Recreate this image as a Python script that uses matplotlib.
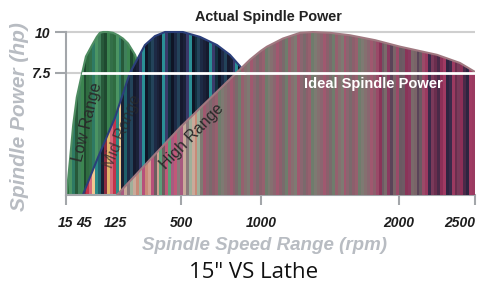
import numpy as np
import matplotlib
matplotlib.use("Agg")
import matplotlib.pyplot as plt
from matplotlib.patches import Polygon
from matplotlib.colors import to_rgb

plt.rcParams['font.family'] = ['Liberation Sans', 'DejaVu Sans']

# ---------------- data ----------------
# piecewise speed axis (rpm -> relative axis position)
AXIS_RPM = [0, 15, 45, 125, 500, 1000, 2000, 2500, 3000]
AXIS_POS = [-30, 0, 18, 49, 115, 195, 333, 409, 485]

X_TICKS = [15, 45, 125, 500, 1000, 2000, 2500]
X_TICK_LABELS = ['15', '45', '125', '500', '1000', '2000', '2500']
X_UNMARKED = ['45', '125']
Y_TICKS = [7.5, 10]
Y_TICK_LABELS = ['7.5', '10']
IDEAL_HP = 7.5

LOW_RPM = [16, 22, 27, 33, 42, 50, 66, 78, 86, 94, 107, 120, 142, 170, 199, 239, 290, 330, 360]
LOW_HP = [0, 2.3, 4.3, 6.0, 7.5, 8.5, 9.2, 9.7, 9.95, 10.0, 10.0, 9.95, 9.8, 9.6, 9.3, 8.6, 7.0, 5.0, 0]

MID_RPM = [43, 81, 125, 210, 295, 352, 409, 466, 512, 619, 725, 806, 869, 931, 963, 1007]
MID_HP = [0, 2.3, 4.75, 7.5, 9.2, 9.75, 10.0, 10.0, 10.0, 9.7, 9.2, 8.6, 7.9, 7.1, 6.5, 0]

HIGH_RPM = [136, 500, 931, 1000, 1043, 1159, 1283, 1377, 1500, 1645, 1826, 2007, 2250, 2401, 2500]
HIGH_HP = [0, 4.2, 8.3, 8.85, 9.1, 9.6, 9.95, 10.0, 9.95, 9.8, 9.5, 9.1, 8.6, 8.1, 7.55]

# stripe palettes: (start fraction of axis width, colours)
LOW_STRIPES = [(0.0, ['#2f6b40', '#3c8550', '#27593a', '#4b9463', '#336f48', '#1f4a30', '#3f7f5a', '#2e7a64'])]
MID_STRIPES = [(0.0, ['#c2334a', '#e3b46a', '#1a1f33', '#2c8a86', '#d46a7a', '#8a2a40', '#1f5f6a', '#f0c890']),
               (0.15, ['#161a2e', '#1d2a45', '#12303f', '#2a8f95', '#1b2138', '#23435a', '#0f1526', '#3a3a6a'])]
HIGH_STRIPES = [(0.0, ['#c9aa9a', '#b8507a', '#5c9f78', '#8a7a7c', '#c98a78', '#6d5d60', '#a85a80', '#9fb09a', '#d0a090', '#c05878']),
                (0.33, ['#8a6670', '#7e7a72', '#96606e', '#7a6a6c', '#a0586f', '#857070', '#6f7c6c', '#8c5f6c']),
                (0.76, ['#7a6468', '#8a3a60', '#6e5a64', '#9a4a68', '#5a4458', '#7a6a6a', '#8a3458', '#6a5a62']),
                (0.88, ['#8c2f57', '#6a2e4e', '#3a2a4a', '#a03a62', '#4a2a48', '#7a3a5a', '#9a3a60', '#2e2440'])]

# ---------------- figure ----------------
fig = plt.figure(figsize=(4.78, 2.86), dpi=100)
ax = fig.add_axes([66 / 478, (286 - 195) / 286, 409 / 478, 0.587])

fwd = lambda v: np.interp(v, AXIS_RPM, AXIS_POS)
inv = lambda v: np.interp(v, AXIS_POS, AXIS_RPM)
ax.set_xscale('function', functions=(fwd, inv))

GRID = '#cfcfcf'
SPINE = '#a3a6aa'
for yv in Y_TICKS:
    ax.axhline(yv, color=GRID, lw=1.5, zorder=0.5)


def stripe_image(segments, n=140):
    arr = np.zeros((1, n, 3))
    for i in range(n):
        frac = (i + 0.5) / n
        pal = segments[0][1]
        for start, p in segments:
            if frac >= start:
                pal = p
        arr[0, i] = to_rgb(pal[(i * 3 + i // 2) % len(pal)])
    return arr


def draw_range(rpm, hp, segments, edge, z):
    verts = np.column_stack([rpm + [rpm[-1], rpm[0]], hp + [0, 0]])
    patch = Polygon(verts, closed=True, facecolor='none', edgecolor='none', zorder=z)
    ax.add_patch(patch)
    im = ax.imshow(stripe_image(segments), extent=[0, 1, 0, 1], transform=ax.transAxes,
                   aspect='auto', interpolation='nearest', zorder=z)
    im.set_clip_path(patch)
    ax.plot(rpm, hp, color=edge, lw=1.5, zorder=z + 0.1, solid_capstyle='round')
    wl = ax.axhline(IDEAL_HP, color='white', lw=2.0, zorder=6)
    wl.set_clip_path(patch)
    return patch


draw_range(LOW_RPM, LOW_HP, LOW_STRIPES, '#4f8d62', 1)
draw_range(MID_RPM, MID_HP, MID_STRIPES, '#2b3f7a', 2)
draw_range(HIGH_RPM, HIGH_HP, HIGH_STRIPES, '#a07880', 3)

ax.set_xlim(15, 2500)
ax.set_ylim(0, 10.3)
ax.set_autoscale_on(False)

# spines & ticks
for s in ['top', 'right']:
    ax.spines[s].set_visible(False)
for s in ['left', 'bottom']:
    ax.spines[s].set_color(SPINE)
    ax.spines[s].set_linewidth(1.5)
ax.spines['left'].set_bounds(0, 10)

tick_font = dict(fontsize=10, fontweight='bold', fontstyle='italic', color='#1e1e1e')
ax.set_yticks(Y_TICKS)
ax.set_yticklabels(Y_TICK_LABELS, **tick_font)
ax.set_xticks(X_TICKS)
ax.set_xticklabels(X_TICK_LABELS, **tick_font)
ax.tick_params(axis='y', length=8, width=1.5, color=SPINE, pad=3.5)
ax.tick_params(axis='x', length=7, width=1.5, color=SPINE, pad=8)
for tk, lab in zip(ax.xaxis.get_major_ticks(), X_TICK_LABELS):
    if lab in X_UNMARKED:
        tk.tick1line.set_visible(False)
ax.get_xticklabels()[-1].set_ha('right')

# annotations
lab_font = dict(fontsize=11.5, color='#2a2a2a', ha='center', va='center', rotation_mode='anchor', zorder=7)
ax.text(53, 4.5, 'Low Range', rotation=76, **lab_font)
ax.text(165, 3.9, 'Mid Range', rotation=68, alpha=0.75, **lab_font)
ax.text(569, 3.6, 'High Range', rotation=46, **lab_font)
ax.text(1812, 6.8, 'Ideal Spindle Power', fontsize=10.5, fontweight='bold', color='white',
        ha='center', va='center', zorder=8)

fig.text(268 / 478, 1 - 17 / 286, 'Actual Spindle Power', fontsize=10.4, fontweight='bold',
         color='#222222', ha='center', va='center')
fig.text(265 / 478, 1 - 245 / 286, 'Spindle Speed Range (rpm)', fontsize=13.5, fontweight='bold',
         fontstyle='italic', color='#b8bcc2', ha='center', va='center')
fig.text(20 / 478, 1 - 117 / 286, 'Spindle Power (hp)', fontsize=15, fontweight='bold',
         fontstyle='italic', color='#b8bcc2', ha='center', va='center', rotation=90)
fig.text(254 / 478, 1 - 273 / 286, '15" VS Lathe', fontsize=16, color='#111111',
         ha='center', va='center', family=['Open Sans', 'DejaVu Sans'])

fig.savefig('out.png', dpi=100)
